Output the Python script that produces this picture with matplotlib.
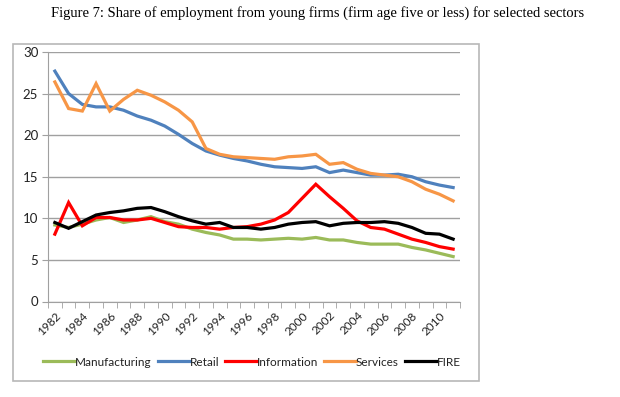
import matplotlib.pyplot as plt
from matplotlib.patches import Rectangle

# years on the category axis
years = list(range(1982, 2012))

# share of employment from young firms
manufacturing = [9.2, 8.9, 9.3, 9.8, 10.1, 9.5, 9.8, 10.2, 9.6, 9.3,
                 8.7, 8.3, 8.0, 7.5, 7.5, 7.4, 7.5, 7.6, 7.5, 7.7,
                 7.4, 7.4, 7.1, 6.9, 6.9, 6.9, 6.5, 6.2, 5.8, 5.4]
retail = [27.7, 25.0, 23.7, 23.4, 23.4, 23.0, 22.3, 21.8, 21.1, 20.1,
          19.0, 18.1, 17.6, 17.2, 16.9, 16.5, 16.2, 16.1, 16.0, 16.2,
          15.5, 15.8, 15.5, 15.2, 15.2, 15.3, 15.0, 14.4, 14.0, 13.7]
information = [8.1, 11.9, 9.1, 10.1, 10.1, 9.8, 9.8, 10.0, 9.5, 9.0,
               8.9, 8.9, 8.7, 8.9, 9.0, 9.3, 9.8, 10.7, 12.4, 14.1,
               12.6, 11.2, 9.7, 8.9, 8.7, 8.1, 7.5, 7.1, 6.6, 6.3]
services = [26.4, 23.2, 22.9, 26.2, 22.9, 24.3, 25.4, 24.8, 24.0, 23.0,
            21.6, 18.4, 17.7, 17.4, 17.3, 17.2, 17.1, 17.4, 17.5, 17.7,
            16.5, 16.7, 15.9, 15.4, 15.2, 15.0, 14.4, 13.5, 12.9, 12.1]
fire = [9.5, 8.8, 9.6, 10.4, 10.7, 10.9, 11.2, 11.3, 10.8, 10.2,
        9.7, 9.3, 9.5, 8.9, 8.9, 8.7, 8.9, 9.3, 9.5, 9.6,
        9.1, 9.4, 9.5, 9.5, 9.6, 9.4, 8.9, 8.2, 8.1, 7.5]

series = [("Manufacturing", manufacturing, "#9BBB59"),
          ("Retail", retail, "#4F81BD"),
          ("Information", information, "#FF0000"),
          ("Services", services, "#F79646"),
          ("FIRE", fire, "#000000")]

W, H = 620, 397
fig = plt.figure(figsize=(W / 100, H / 100), dpi=100)
plt.rcParams['font.family'] = ['Lato', 'DejaVu Sans']

# chart border like the excel chart area
fig.patches.append(Rectangle((13 / W, 1 - 381 / H), 466 / W, 337 / H,
                             transform=fig.transFigure, fill=False,
                             edgecolor="#b8b8b8", linewidth=1.2))

fig.text(318 / W, 1 - 13 / H,
         "Figure 7: Share of employment from young firms (firm age five or less) for selected sectors",
         family="Liberation Serif", fontsize=10.5, ha="center", va="center")

ax = fig.add_axes([48 / W, 1 - 301.5 / H, 412 / W, 249.5 / H])
x = list(range(len(years)))
for name, vals, col in series:
    ax.plot(x, vals, color=col, linewidth=2.3, label=name, solid_joinstyle="miter")

ax.set_xlim(-0.5, len(years) - 0.5)
ax.set_ylim(0, 30)
ax.set_yticks(range(0, 31, 5))
ax.yaxis.grid(True, color="#a0a0a0", linewidth=1)
ax.set_axisbelow(True)

ax.set_xticks(x[::2])
ax.set_xticklabels([str(y) for y in years[::2]], rotation=45,
                   ha="right", rotation_mode="anchor")
ax.set_xticks([i - 0.5 for i in range(len(years) + 1)], minor=True)
ax.tick_params(axis="x", which="major", length=0, pad=6, labelsize=8.5,
               colors="#222222")
ax.tick_params(axis="x", which="minor", length=4, color="#a0a0a0")
ax.tick_params(axis="y", length=4, color="#a0a0a0", labelsize=9.5,
               labelcolor="#222222", pad=3)

for s in ["top", "right"]:
    ax.spines[s].set_visible(False)
ax.spines["left"].set_color("#a0a0a0")
ax.spines["bottom"].set_color("#a0a0a0")

fig.legend(loc="center", bbox_to_anchor=(252 / W, 1 - 362 / H), ncol=5,
           frameon=False, fontsize=8.5, handlelength=2.7, handletextpad=0.0,
           columnspacing=0.5, labelcolor="#222222")

fig.savefig("out.png", dpi=100)
